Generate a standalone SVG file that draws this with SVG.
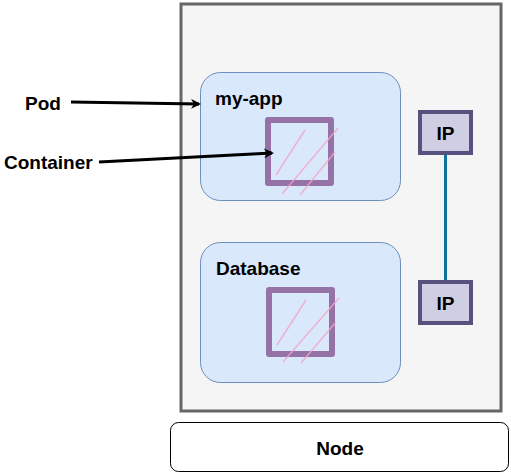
<svg xmlns="http://www.w3.org/2000/svg" width="511" height="473" viewBox="0 0 511 473">
<style>
text{font-family:"Liberation Sans",Arial,sans-serif;font-weight:bold;fill:#000;font-size:19px}
.pod{fill:#dae8fc;stroke:#6c8ebf;stroke-width:1}
.ctr{fill:#dae8fc;stroke:#9673a6;stroke-width:6;stroke-linejoin:round}
.hatch{stroke:#f3a6c8;stroke-width:1.5;opacity:0.8}
.ip{fill:#d0cee2;stroke:#56517e;stroke-width:4}
.arrow{stroke:#000;stroke-width:3;fill:none}
</style>
<defs>
<marker id="ah" markerWidth="10" markerHeight="10" refX="8" refY="5" orient="auto" markerUnits="userSpaceOnUse">
<path d="M0,0 L10,5 L0,10 L3,5 Z" fill="#000"/>
</marker>
</defs>
<g id="node">
<rect x="181" y="4" width="320" height="407" fill="#f5f5f5" stroke="#666" stroke-width="3"/>
</g>
<g id="node-label">
<rect x="170.5" y="422.5" width="338" height="49" rx="8" fill="#fff" stroke="#000" stroke-width="1"/>
<text x="340" y="455" text-anchor="middle">Node</text>
</g>
<g id="pod-myapp">
<rect class="pod" x="200.5" y="72.5" width="200" height="128" rx="20"/>
<text x="215" y="105">my-app</text>
</g>
<g id="container-myapp">
<rect class="ctr" x="268" y="120" width="63" height="63"/>
<line class="hatch" x1="276" y1="175" x2="305" y2="130"/>
<line class="hatch" x1="282" y1="194" x2="338" y2="128"/>
<line class="hatch" x1="300" y1="195" x2="335" y2="152"/>
</g>
<g id="pod-database">
<rect class="pod" x="200.5" y="242.5" width="200" height="140" rx="20"/>
<text x="216" y="275">Database</text>
</g>
<g id="container-database">
<rect class="ctr" x="269" y="290" width="63" height="64"/>
<line class="hatch" x1="277" y1="345" x2="306" y2="300"/>
<line class="hatch" x1="283" y1="362" x2="339" y2="298"/>
<line class="hatch" x1="301" y1="363" x2="336" y2="322"/>
</g>
<g id="ip-top">
<rect class="ip" x="420" y="112" width="51" height="41"/>
<text x="445.5" y="139.5" text-anchor="middle">IP</text>
</g>
<g id="ip-bottom">
<rect class="ip" x="420" y="282" width="51" height="41"/>
<text x="445.5" y="309.5" text-anchor="middle">IP</text>
</g>
<g id="label-pod"><text x="25" y="110">Pod</text></g>
<g id="label-container"><text x="4" y="169">Container</text></g>
<g id="connectors">
<line x1="445.5" y1="155" x2="445.5" y2="280" stroke="#10739e" stroke-width="3"/>
<line class="arrow" x1="71" y1="102" x2="199" y2="104" marker-end="url(#ah)"/>
<line class="arrow" x1="99" y1="162" x2="272" y2="153" marker-end="url(#ah)"/>
</g>
</svg>
